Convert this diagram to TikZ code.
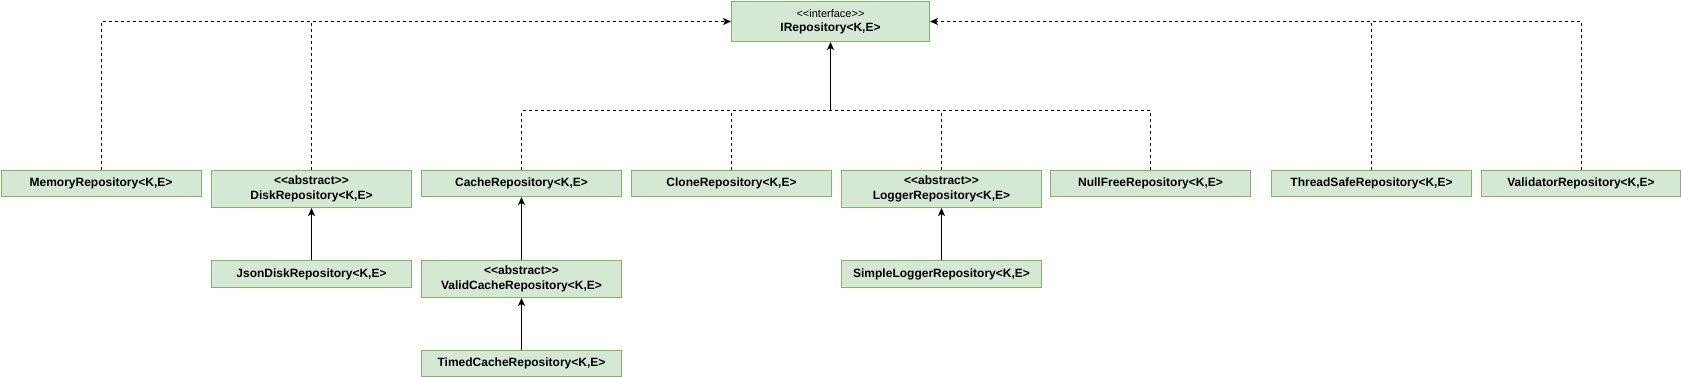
\documentclass[tikz,border=0pt]{standalone}
\usepackage{fontspec}
\setmainfont{Liberation Sans}
\usetikzlibrary{arrows.meta}
\definecolor{boxfill}{HTML}{D5E8D4}
\definecolor{boxline}{HTML}{82B366}
\begin{document}
\begin{tikzpicture}[x=1pt,y=-1pt,
  cls/.style={draw=boxline, fill=boxfill, line width=1pt, minimum width=200pt, minimum height=26pt,
    inner sep=0pt, anchor=north west, align=center,
    font=\fontsize{12pt}{15pt}\selectfont\bfseries},
  tip/.style={-{Stealth[length=8pt,width=7pt,inset=2pt]}},
  dashline/.style={draw=black, line width=1pt, dash pattern=on 3pt off 3pt},
  real/.style={dashline, tip},
  inh/.style={draw=black, line width=1pt, tip}]
\useasboundingbox (0,0) rectangle (1681,377);
% nodes
\node[cls, minimum width=198pt, minimum height=40pt, font=\fontsize{12pt}{14pt}\selectfont\bfseries] (irep) at (731,1)
  {{\mdseries\fontsize{11pt}{13pt}\selectfont <{}<interface>{}>}\\IRepository<K,E>};
\node[cls] (mem) at (0.5,170) {MemoryRepository<K,E>};
\node[cls, minimum height=37pt] (disk) at (211,170) {<{}<abstract>{}>\\DiskRepository<K,E>};
\node[cls] (cache) at (421,170) {CacheRepository<K,E>};
\node[cls] (clone) at (631,170) {CloneRepository<K,E>};
\node[cls, minimum height=37pt] (logger) at (841,170) {<{}<abstract>{}>\\LoggerRepository<K,E>};
\node[cls] (nullfree) at (1050,170) {NullFreeRepository<K,E>};
\node[cls] (thread) at (1271,170) {ThreadSafeRepository<K,E>};
\node[cls, minimum width=199pt] (valid) at (1481,170) {ValidatorRepository<K,E>};
\node[cls, minimum height=27pt] (json) at (211,260) {JsonDiskRepository<K,E>};
\node[cls, minimum height=37pt] (vcache) at (421,260) {<{}<abstract>{}>\\ValidCacheRepository<K,E>};
\node[cls, minimum height=27pt] (simple) at (841,260) {SimpleLoggerRepository<K,E>};
\node[cls] (timed) at (421,350) {TimedCacheRepository<K,E>};
% junctions
\coordinate (jl) at (disk.north |- irep.west);
\coordinate (jr) at (thread.north |- irep.east);
\coordinate (jm) at (irep.south |- 0,111);
% realization connectors
\draw[real] (mem.north) |- (irep.west);
\draw[dashline] (disk.north) -- (jl);
\draw[real] (valid.north) |- (irep.east);
\draw[dashline] (thread.north) -- (jr);
\draw[dashline] (cache.north) |- (jm);
\draw[dashline] (nullfree.north) |- (jm);
\draw[dashline] (clone.north) -- (clone.north |- jm);
\draw[dashline] (logger.north) -- (logger.north |- jm);
\draw[inh] (jm) -- (irep.south);
% inheritance connectors
\draw[inh] (json.north) -- (disk.south);
\draw[inh] (vcache.north) -- (cache.south);
\draw[inh] (timed.north) -- (vcache.south);
\draw[inh] (simple.north) -- (logger.south);
\end{tikzpicture}
\end{document}
